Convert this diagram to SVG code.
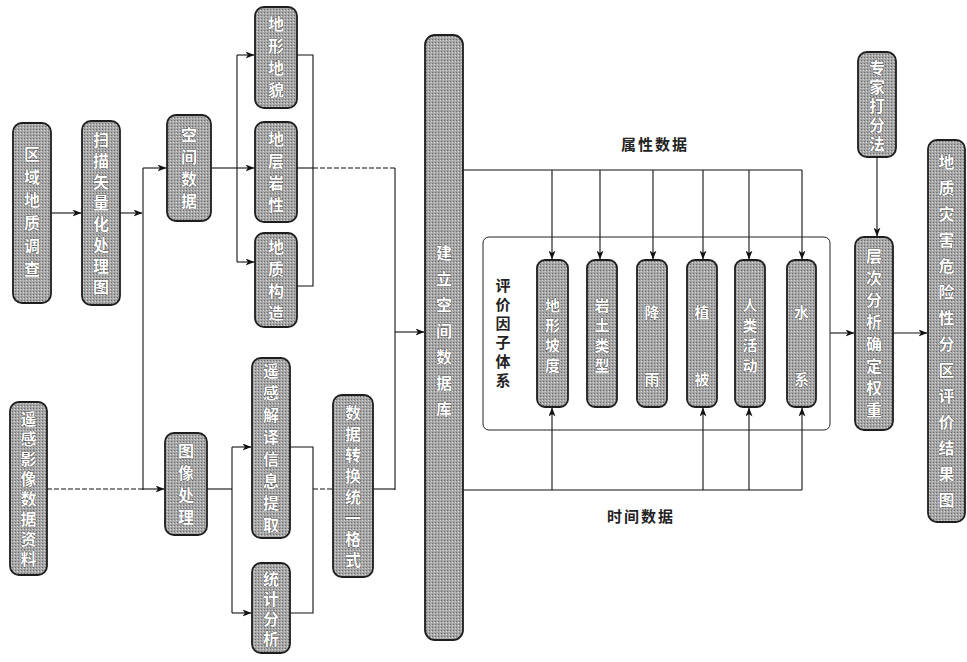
<svg xmlns="http://www.w3.org/2000/svg" width="967" height="662" viewBox="0 0 967 662">
<defs>
<marker id="ah" markerWidth="9" markerHeight="7" refX="8.5" refY="3.5" orient="auto" markerUnits="userSpaceOnUse">
<path d="M0,0 L9,3.5 L0,7 L2.5,3.5 z" fill="#111"/>
</marker>
<pattern id="dots" width="3" height="3" patternUnits="userSpaceOnUse">
<rect width="3" height="3" fill="#a6a6a6"/>
<rect x="0" y="0" width="1" height="1" fill="#6a6a6a"/>
<rect x="2" y="1" width="1" height="1" fill="#d8d8d8"/>
</pattern>
</defs>
<style>
.b{fill:url(#dots);stroke:#1e1e1e;stroke-width:1.8}
.t{font-family:"Noto Sans CJK SC","Noto Sans CJK TC",sans-serif;font-size:16px;font-weight:bold;fill:#fff;stroke:#333;stroke-width:0.7;paint-order:stroke;writing-mode:vertical-rl;text-orientation:upright;text-anchor:middle}
.s{font-size:15px}
.lab{font-family:"Noto Sans CJK SC","Noto Sans CJK TC",sans-serif;font-size:15px;fill:#222;font-weight:bold}
.lv{writing-mode:vertical-rl;text-orientation:upright;text-anchor:middle}
.c{fill:none;stroke:#111;stroke-width:1.1}
.a{marker-end:url(#ah)}
.d{stroke-dasharray:5 2}
.fr{fill:none;stroke:#222;stroke-width:1}
</style>
<rect width="967" height="662" fill="#fff"/>

<g id="connectors">
<path class="c a" d="M51,213 H81"/>
<path class="c a" d="M120,213 H142"/>
<path class="c" d="M143,168 V490"/>
<path class="c a" d="M143,168 H166"/>
<path class="c d" d="M47,489 H143"/>
<path class="c a" d="M143,489 H164"/>
<path class="c" d="M211,168 H237"/>
<path class="c" d="M237,55 V262"/>
<path class="c a" d="M237,55 H254"/>
<path class="c a" d="M237,168 H254"/>
<path class="c a" d="M237,262 H254"/>
<path class="c" d="M297,55 H313 V286 H297"/>
<path class="c" d="M297,168 H313"/>
<path class="c d" d="M313,168 H395"/>
<path class="c" d="M395,168 V490"/>
<path class="c a" d="M395,332 H424"/>
<path class="c" d="M207,489 H232"/>
<path class="c" d="M232,447 V613"/>
<path class="c a" d="M232,447 H251"/>
<path class="c a" d="M232,613 H251"/>
<path class="c" d="M290,447 H313 V613 H290"/>
<path class="c d" d="M313,489 H332"/>
<path class="c" d="M373,489 H395"/>
<path class="c" d="M463,170 H802"/>
<path class="c a" d="M552,170 V259"/>
<path class="c a" d="M600,170 V259"/>
<path class="c a" d="M653,170 V259"/>
<path class="c a" d="M703,170 V259"/>
<path class="c a" d="M749,170 V259"/>
<path class="c a" d="M802,170 V259"/>
<path class="c" d="M463,490 H802"/>
<path class="c a" d="M552,490 V408"/>
<path class="c a" d="M703,490 V408"/>
<path class="c a" d="M749,490 V408"/>
<path class="c a" d="M802,490 V408"/>
<path class="c a" d="M830,333 H854"/>
<path class="c a" d="M877,157 V236"/>
<path class="c a" d="M893,333 H927"/>
</g>

<g id="frame">
<rect class="fr" x="483" y="237" width="347" height="193" rx="6"/>
<text class="lab lv" x="503" y="335" style="letter-spacing:4px">评价因子体系</text>
</g>
<g id="label-top"><text class="lab" x="655" y="150" text-anchor="middle" style="letter-spacing:2px">属性数据</text></g>
<g id="label-bottom"><text class="lab" x="641" y="522" text-anchor="middle" style="letter-spacing:2px">时间数据</text></g>

<g id="nA"><rect class="b" x="13" y="123" width="38" height="180" rx="9"/><text class="t" x="32" y="215" style="letter-spacing:7px">区域地质调查</text></g>
<g id="nB"><rect class="b" x="82" y="121" width="38" height="184" rx="9"/><text class="t" x="101" y="216" style="letter-spacing:5px">扫描矢量化处理图</text></g>
<g id="nC"><rect class="b" x="167" y="115" width="44" height="106" rx="9"/><text class="t" x="189" y="171" style="letter-spacing:6px">空间数据</text></g>
<g id="nD1"><rect class="b" x="255" y="7" width="42" height="101" rx="9"/><text class="t" x="276" y="60" style="letter-spacing:6px">地形地貌</text></g>
<g id="nD2"><rect class="b" x="255" y="122" width="42" height="100" rx="9"/><text class="t" x="276" y="175" style="letter-spacing:6px">地层岩性</text></g>
<g id="nD3"><rect class="b" x="255" y="233" width="42" height="94" rx="9"/><text class="t" x="276" y="283" style="letter-spacing:6px">地质构造</text></g>
<g id="nG"><rect class="b" x="10" y="402" width="37" height="173" rx="9"/><text class="t" x="28.5" y="491" style="letter-spacing:4px">遥感影像数据资料</text></g>
<g id="nF"><rect class="b" x="165" y="433" width="42" height="102" rx="9"/><text class="t" x="186" y="487" style="letter-spacing:6px">图像处理</text></g>
<g id="nH"><rect class="b" x="252" y="358" width="38" height="180" rx="9"/><text class="t" x="271" y="451" style="letter-spacing:6px">遥感解译信息提取</text></g>
<g id="nI"><rect class="b" x="252" y="563" width="38" height="90" rx="9"/><text class="t" x="271" y="611" style="letter-spacing:4px">统计分析</text></g>
<g id="nE"><rect class="b" x="333" y="395" width="40" height="182" rx="9"/><text class="t" x="353" y="489" style="letter-spacing:5px">数据转换统一格式</text></g>
<g id="nJ"><rect class="b" x="425" y="35" width="38" height="605" rx="10"/><text class="t" x="444" y="336" style="letter-spacing:10px">建立空间数据库</text></g>
<g id="nP1"><rect class="b" x="537" y="260" width="31" height="147" rx="8"/><text class="t s" x="552.5" y="338" style="letter-spacing:5px">地形坡度</text></g>
<g id="nP2"><rect class="b" x="587" y="260" width="30" height="147" rx="8"/><text class="t s" x="602" y="338" style="letter-spacing:5px">岩土类型</text></g>
<g id="nP3"><rect class="b" x="637" y="260" width="30" height="147" rx="8"/><text class="t s" x="652" y="372" style="letter-spacing:52px">降雨</text></g>
<g id="nP4"><rect class="b" x="687" y="260" width="30" height="147" rx="8"/><text class="t s" x="702" y="372" style="letter-spacing:52px">植被</text></g>
<g id="nP5"><rect class="b" x="735" y="260" width="30" height="147" rx="8"/><text class="t s" x="750" y="338" style="letter-spacing:5px">人类活动</text></g>
<g id="nP6"><rect class="b" x="787" y="260" width="29" height="147" rx="8"/><text class="t s" x="801.5" y="372" style="letter-spacing:52px">水系</text></g>
<g id="nK"><rect class="b" x="858" y="52" width="38" height="105" rx="9"/><text class="t" x="877" y="107" style="letter-spacing:3px">专家打分法</text></g>
<g id="nL"><rect class="b" x="855" y="237" width="38" height="193" rx="9"/><text class="t" x="874" y="336" style="letter-spacing:6px">层次分析确定权重</text></g>
<g id="nM"><rect class="b" x="928" y="140" width="37" height="382" rx="9"/><text class="t" x="946.5" y="336" style="letter-spacing:10px">地质灾害危险性分区评价结果图</text></g>
</svg>
